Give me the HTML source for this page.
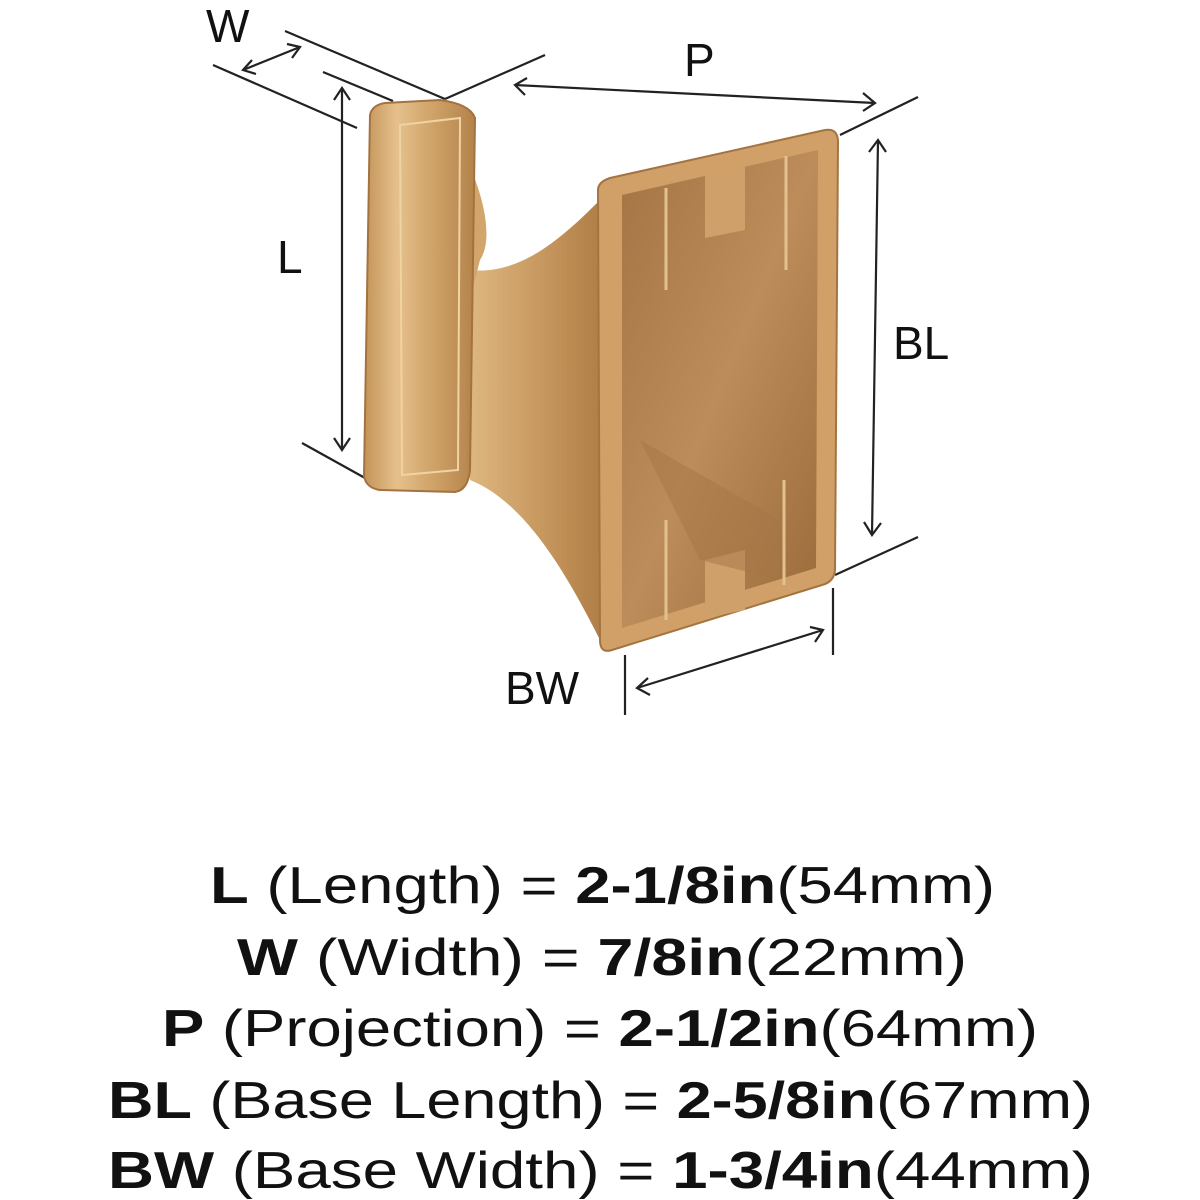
<!DOCTYPE html>
<html><head><meta charset="utf-8"><style>
html,body{margin:0;padding:0;background:#fff;}
svg{display:block}
</style></head><body>
<svg width="1200" height="1200" viewBox="0 0 1200 1200" xmlns="http://www.w3.org/2000/svg">
<defs>
<linearGradient id="cap" x1="0" y1="0" x2="1" y2="0">
<stop offset="0" stop-color="#c29458"/><stop offset="0.3" stop-color="#e6c08c"/><stop offset="0.6" stop-color="#d0a46a"/><stop offset="1" stop-color="#b3834a"/>
</linearGradient>
<linearGradient id="stem" x1="0" y1="0" x2="1" y2="0">
<stop offset="0" stop-color="#ddb780"/><stop offset="0.5" stop-color="#c99b62"/><stop offset="1" stop-color="#b07e46"/>
</linearGradient>
<linearGradient id="plate" x1="0" y1="0" x2="1" y2="1">
<stop offset="0" stop-color="#a47444"/><stop offset="0.5" stop-color="#bc8d5a"/><stop offset="1" stop-color="#9a6a3a"/>
</linearGradient>
</defs>
<g fill="none" stroke="#222" stroke-width="2.2">
<line x1="213" y1="65" x2="357" y2="128"/>
<line x1="285" y1="31" x2="445" y2="99"/>
<line x1="323" y1="72" x2="393" y2="101"/>
<line x1="445" y1="99" x2="545" y2="55"/>
<line x1="243" y1="70" x2="300" y2="47"/>
<polyline points="252,60 243,70 256,74"/><polyline points="287,44 300,47 292,58"/>
<line x1="515" y1="85" x2="875" y2="103"/>
<polyline points="527,78 515,85 525,95"/><polyline points="863,93 875,103 863,111"/>
<line x1="840" y1="135" x2="918" y2="97"/>
<line x1="878" y1="140" x2="872" y2="535"/>
<polyline points="869,152 878,140 886,152"/><polyline points="864,522 872,535 881,523"/>
<line x1="835" y1="575" x2="918" y2="537"/>
<line x1="342" y1="88" x2="342" y2="450"/>
<polyline points="334,100 342,88 350,100"/><polyline points="334,438 342,450 350,438"/>
<line x1="302" y1="443" x2="365" y2="478"/>
<line x1="637" y1="688" x2="823" y2="630"/>
<polyline points="648,678 637,688 650,695"/><polyline points="810,627 823,630 815,642"/>
<line x1="625" y1="655" x2="625" y2="715"/>
<line x1="833" y1="588" x2="833" y2="655"/>
</g>
<path d="M470,270 C520,275 560,240 600,200 L600,640 C560,560 520,500 470,480 Z" fill="url(#stem)"/>
<path d="M480,260 C500,230 470,150 440,120 L470,300 Z" fill="#d2a56b"/>
<path d="M370,115 Q372,105 385,103 L440,100 Q470,104 475,118 L470,470 Q468,490 455,492 L380,490 Q366,488 364,476 Z" fill="url(#cap)" stroke="#a37240" stroke-width="2"/>
<path d="M400,125 L460,118 L458,470 L402,475 Z" fill="none" stroke="#f0d3a3" stroke-width="2"/>
<path d="M598,190 Q598,182 610,178 L825,130 Q838,128 838,142 L835,570 Q834,582 822,585 L612,650 Q600,654 600,640 Z" fill="#d0a068" stroke="#a47440" stroke-width="2"/>
<path d="M622,195 L818,150 L816,568 L622,628 Z" fill="url(#plate)"/>
<path d="M705,175 L745,166 L745,230 L705,238 Z" fill="#cfa06a"/>
<path d="M705,560 L745,550 L745,610 L705,618 Z" fill="#cfa06a"/>
<path d="M640,440 L780,520 L780,580 L700,560 Z" fill="#a57545" opacity="0.5"/>
<g stroke="#e3c090" stroke-width="3">
<line x1="666" y1="188" x2="666" y2="290"/><line x1="786" y1="156" x2="786" y2="270"/>
<line x1="666" y1="520" x2="666" y2="620"/><line x1="784" y1="480" x2="784" y2="585"/>
</g>
<g font-family="Liberation Sans, sans-serif" fill="#111" font-size="46">
<text x="206" y="42">W</text>
<text x="684" y="76">P</text>
<text x="277" y="273">L</text>
<text x="893" y="359">BL</text>
<text x="505" y="704">BW</text>
</g>
<g font-family="Liberation Sans, sans-serif" font-size="52" fill="#111">
<text x="210" y="903" textLength="785" lengthAdjust="spacingAndGlyphs"><tspan font-weight="bold">L</tspan><tspan> (Length) = </tspan><tspan font-weight="bold">2-1/8in</tspan><tspan>(54mm)</tspan></text>
<text x="237" y="975" textLength="730" lengthAdjust="spacingAndGlyphs"><tspan font-weight="bold">W</tspan><tspan> (Width) = </tspan><tspan font-weight="bold">7/8in</tspan><tspan>(22mm)</tspan></text>
<text x="162" y="1046" textLength="876" lengthAdjust="spacingAndGlyphs"><tspan font-weight="bold">P</tspan><tspan> (Projection) = </tspan><tspan font-weight="bold">2-1/2in</tspan><tspan>(64mm)</tspan></text>
<text x="108" y="1118" textLength="985" lengthAdjust="spacingAndGlyphs"><tspan font-weight="bold">BL</tspan><tspan> (Base Length) = </tspan><tspan font-weight="bold">2-5/8in</tspan><tspan>(67mm)</tspan></text>
<text x="108" y="1188" textLength="985" lengthAdjust="spacingAndGlyphs"><tspan font-weight="bold">BW</tspan><tspan> (Base Width) = </tspan><tspan font-weight="bold">1-3/4in</tspan><tspan>(44mm)</tspan></text>
</g>
</svg>
</body></html>
